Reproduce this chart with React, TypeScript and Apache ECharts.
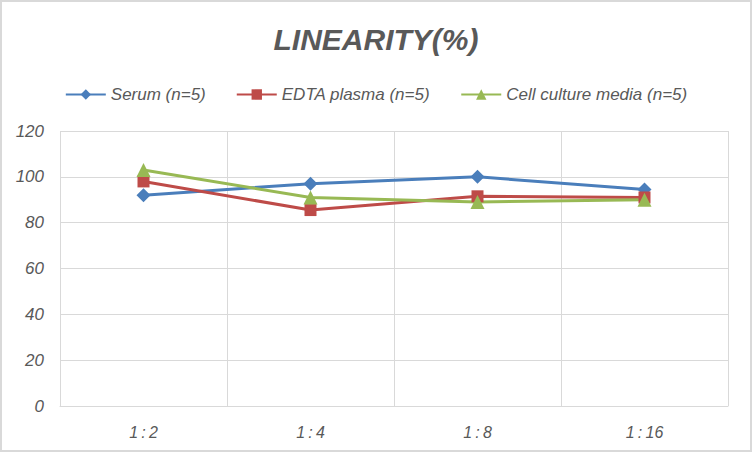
import React, { useEffect, useRef } from 'react';
import * as echarts from 'echarts';

const categories = ['1:2', '1:4', '1:8', '1:16'];
const serum = [92, 97, 100, 94.5];
const edtaPlasma = [98, 85.5, 91.5, 91];
const cellCulture = [103, 91, 89, 90];
const yTicks = [0, 20, 40, 60, 80, 100, 120];

const seriesNames = ['Serum (n=5)', 'EDTA plasma (n=5)', 'Cell culture media (n=5)'];
const colors = ['#4A7EBB', '#BE4B48', '#98B954'];

const FONT = '"Liberation Sans", sans-serif';

const App: React.FC = () => {
  const chartRef = useRef<HTMLDivElement>(null);

  useEffect(() => {
    if (!chartRef.current) return;
    const chart = echarts.init(chartRef.current, undefined, { renderer: 'svg' });

    const mk = (name: string, data: number[], color: string, symbol: string, size: number) => ({
      name,
      type: 'line',
      data,
      symbol,
      symbolSize: size,
      lineStyle: { width: 3, color },
      itemStyle: { color },
      z: 2
    });

    chart.setOption({
      animation: false,
      backgroundColor: '#fff',
      title: {
        text: 'LINEARITY(%)',
        left: 'center',
        top: 17,
        textStyle: {
          fontFamily: FONT,
          fontSize: 30,
          fontWeight: 'bold',
          fontStyle: 'italic',
          color: '#595959'
        }
      },
      legend: {
        top: 79,
        left: 'center',
        itemWidth: 40,
        itemHeight: 13,
        itemGap: 30,
        data: seriesNames,
        textStyle: {
          fontFamily: FONT,
          fontSize: 17,
          fontStyle: 'italic',
          color: '#595959'
        }
      },
      grid: { left: 58, right: 22, top: 129, bottom: 44 },
      xAxis: {
        type: 'category',
        data: categories,
        boundaryGap: true,
        axisLine: { lineStyle: { color: '#D9D9D9' } },
        axisTick: { show: false },
        splitLine: { show: true, lineStyle: { color: '#D9D9D9' } },
        axisLabel: {
          margin: 18,
          fontFamily: FONT,
          fontSize: 16,
          fontStyle: 'italic',
          color: '#595959',
          formatter: (v: string) => v.replace(':', '\u2009:\u2009')
        }
      },
      yAxis: {
        type: 'value',
        min: yTicks[0],
        max: yTicks[yTicks.length - 1],
        interval: 20,
        axisLine: { show: false },
        axisTick: { show: false },
        splitLine: { lineStyle: { color: '#D9D9D9' } },
        axisLabel: {
          margin: 16,
          fontFamily: FONT,
          fontSize: 17,
          fontStyle: 'italic',
          color: '#595959'
        }
      },
      series: [
        mk(seriesNames[0], serum, colors[0], 'diamond', 14),
        mk(seriesNames[1], edtaPlasma, colors[1], 'rect', 12),
        mk(seriesNames[2], cellCulture, colors[2], 'triangle', 14)
      ]
    });

    return () => {
      chart.dispose();
    };
  }, []);

  return (
    <div
      style={{
        position: 'absolute',
        left: 0,
        top: 0,
        width: 752,
        height: 452,
        boxSizing: 'border-box',
        border: '2px solid #D9D9D9',
        background: '#fff'
      }}
    >
      <div ref={chartRef} style={{ width: 748, height: 448 }}></div>
    </div>
  );
};

export default App;
